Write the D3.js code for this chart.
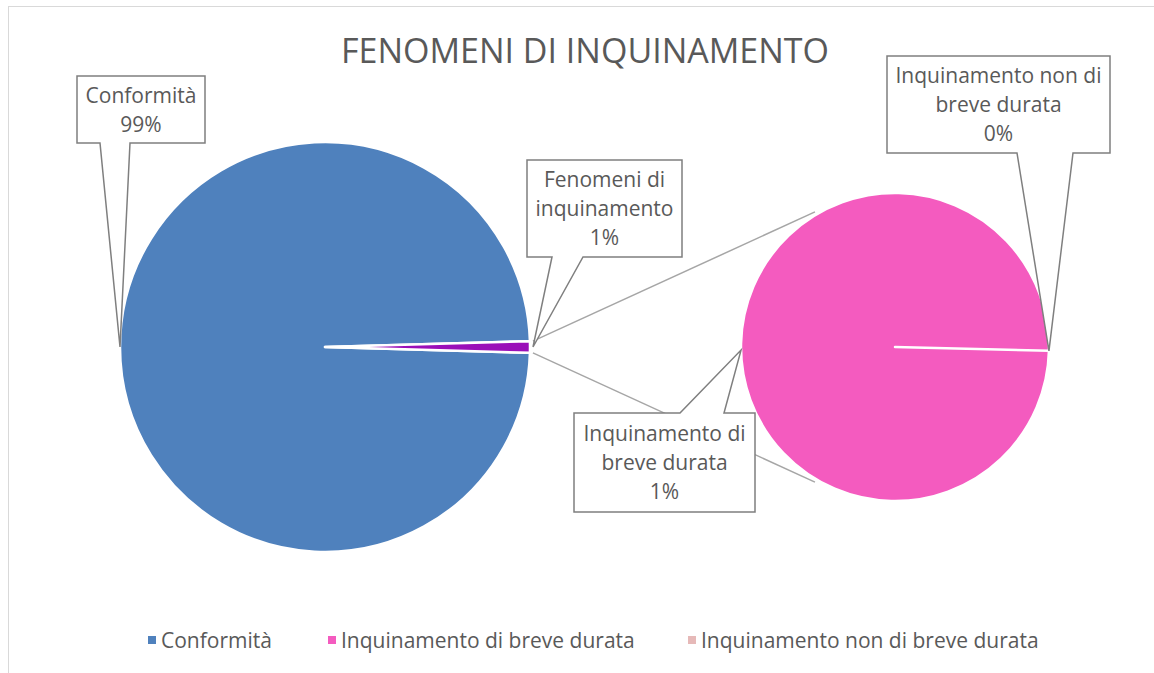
<!DOCTYPE html>
<html>
<head>
<meta charset="utf-8">
<script src="https://cdn.jsdelivr.net/npm/d3@7"></script>
<style>
    body { margin: 0; background: #fff; }
    text { font-family: 'Open Sans', sans-serif; fill: #595959; }
</style>
</head>
<body>
<svg width="1154" height="673"></svg>
<script>
// chart data (percent of total)
let categories = ['Conformità', 'Inquinamento di breve durata', 'Inquinamento non di breve durata'];
let values = [99.1, 0.9, 0];
let splitLabel = 'Fenomeni di inquinamento';
let chartTitle = 'FENOMENI DI INQUINAMENTO';

// label lines as they wrap in the callouts
let labelLines = {
    'Conformità': ['Conformità'],
    'Fenomeni di inquinamento': ['Fenomeni di', 'inquinamento'],
    'Inquinamento di breve durata': ['Inquinamento di', 'breve durata'],
    'Inquinamento non di breve durata': ['Inquinamento non di', 'breve durata']
};

let color = d3.scaleOrdinal()
    .domain(['Conformità', 'Fenomeni di inquinamento', 'Inquinamento di breve durata', 'Inquinamento non di breve durata'])
    .range(['#4f81bd', '#9a0fb8', '#f45bbf', '#e6b9b8']);

let svg = d3.select('svg');
let total = d3.sum(values);
let pct = d3.format('.0%');

// chart border
svg.append('rect')
    .attr('x', 8.5).attr('y', 6.5)
    .attr('width', 1170).attr('height', 700)
    .attr('fill', 'none')
    .attr('stroke', '#d9d9d9');

// title
svg.append('text')
    .attr('x', 585).attr('y', 63)
    .attr('text-anchor', 'middle')
    .style('font-size', '34px')
    .text(chartTitle);

// main pie and secondary pie
let mainC = {x: 325, y: 347, r: 205};
let subC = {x: 895, y: 347, r: 154};

let mainData = [
    {name: categories[0], value: values[0]},
    {name: splitLabel, value: values[1] + values[2]}
];
let subData = [
    {name: categories[1], value: values[1]},
    {name: categories[2], value: values[2]}
];

// split slice centred on 3 o'clock
let splitAngle = 2 * Math.PI * mainData[1].value / total;
let mainPie = d3.pie().sort(null).value(d => d.value)
    .startAngle(Math.PI / 2 + splitAngle / 2)
    .endAngle(Math.PI / 2 + splitAngle / 2 + 2 * Math.PI);
let subPie = d3.pie().sort(null).value(d => d.value)
    .startAngle(Math.PI / 2 + 0.025)
    .endAngle(Math.PI / 2 + 0.025 + 2 * Math.PI);

let mainArcs = mainPie(mainData);
let subArcs = subPie(subData);

// connector lines from split slice to the second pie
function polar(c, r, a) {
    return [c.x + Math.sin(a) * r, c.y - Math.cos(a) * r];
}
let connAngle = 0.535;
let connectors = [
    [polar(mainC, mainC.r + 3, Math.PI / 2 - splitAngle / 2), polar(subC, subC.r + 3, -connAngle)],
    [polar(mainC, mainC.r + 3, Math.PI / 2 + splitAngle / 2), polar(subC, subC.r + 3, Math.PI + connAngle)]
];
svg.append('g').selectAll('line')
    .data(connectors)
    .join('line')
    .attr('x1', d => d[0][0]).attr('y1', d => d[0][1])
    .attr('x2', d => d[1][0]).attr('y2', d => d[1][1])
    .attr('stroke', '#a6a6a6')
    .attr('stroke-width', 1.5);

svg.append('g')
    .attr('transform', 'translate(' + [mainC.x, mainC.y] + ')')
    .selectAll('path')
    .data(mainArcs)
    .join('path')
    .attr('d', d3.arc().innerRadius(0).outerRadius(mainC.r))
    .attr('fill', d => color(d.data.name))
    .attr('stroke', '#fff')
    .attr('stroke-width', 2.5)
    .attr('stroke-linejoin', 'round');

svg.append('g')
    .attr('transform', 'translate(' + [subC.x, subC.y] + ')')
    .selectAll('path')
    .data(subArcs)
    .join('path')
    .attr('d', d3.arc().innerRadius(0).outerRadius(subC.r))
    .attr('fill', d => color(d.data.name))
    .attr('stroke', '#fff')
    .attr('stroke-width', 2.5)
    .attr('stroke-linejoin', 'round');

// callouts: box, pointer base on one side, anchor on the slice
let callouts = [
    {name: categories[0], value: values[0], box: [77, 76, 205, 143], side: 'bottom', base: [100, 130],
        anchor: polar(mainC, mainC.r, 3 * Math.PI / 2)},
    {name: splitLabel, value: values[1] + values[2], box: [527, 160, 682, 257], side: 'bottom', base: [552, 583],
        anchor: polar(mainC, mainC.r + 3, Math.PI / 2)},
    {name: categories[2], value: values[2], box: [887, 56, 1110, 153], side: 'bottom', base: [1017, 1073],
        anchor: polar(subC, subC.r, Math.PI / 2 + 0.025)},
    {name: categories[1], value: values[1], box: [574, 413, 755, 512], side: 'top', base: [680, 724],
        anchor: polar(subC, subC.r, 3 * Math.PI / 2 - 0.02)}
];

function calloutPath(c) {
    let [x0, y0, x1, y1] = c.box;
    let [b0, b1] = c.base;
    let [ax, ay] = c.anchor;
    if (c.side === 'bottom') {
        return 'M' + x0 + ',' + y0 + 'H' + x1 + 'V' + y1 + 'H' + b1 + 'L' + ax + ',' + ay +
            'L' + b0 + ',' + y1 + 'H' + x0 + 'Z';
    }
    return 'M' + x0 + ',' + y0 + 'H' + b0 + 'L' + ax + ',' + ay + 'L' + b1 + ',' + y0 +
        'H' + x1 + 'V' + y1 + 'H' + x0 + 'Z';
}

let calloutG = svg.append('g').selectAll('g')
    .data(callouts)
    .join('g');

calloutG.append('path')
    .attr('d', calloutPath)
    .attr('fill', '#fff')
    .attr('stroke', '#7f7f7f')
    .attr('stroke-width', 1.5);

calloutG.each(function(c) {
    let lines = labelLines[c.name].concat([pct(c.value / total)]);
    let cx = (c.box[0] + c.box[2]) / 2;
    let cy = (c.box[1] + c.box[3]) / 2;
    let lineH = 29;
    let firstBase = cy - (lines.length - 1) * lineH / 2 + 7.5;
    d3.select(this).selectAll('text')
        .data(lines)
        .join('text')
        .attr('x', cx)
        .attr('y', (d, i) => firstBase + i * lineH)
        .attr('text-anchor', 'middle')
        .style('font-size', '21px')
        .text(d => d);
});

// legend
let legendX = [148, 328, 688];
let legendG = svg.append('g').selectAll('g')
    .data(categories)
    .join('g')
    .attr('transform', (d, i) => 'translate(' + [legendX[i], 640] + ')');
legendG.append('rect')
    .attr('x', 0).attr('y', -4)
    .attr('width', 8).attr('height', 8)
    .attr('fill', d => color(d));
legendG.append('text')
    .attr('x', 13).attr('y', 7.5)
    .style('font-size', '21px')
    .text(d => d);
</script>
</body>
</html>
